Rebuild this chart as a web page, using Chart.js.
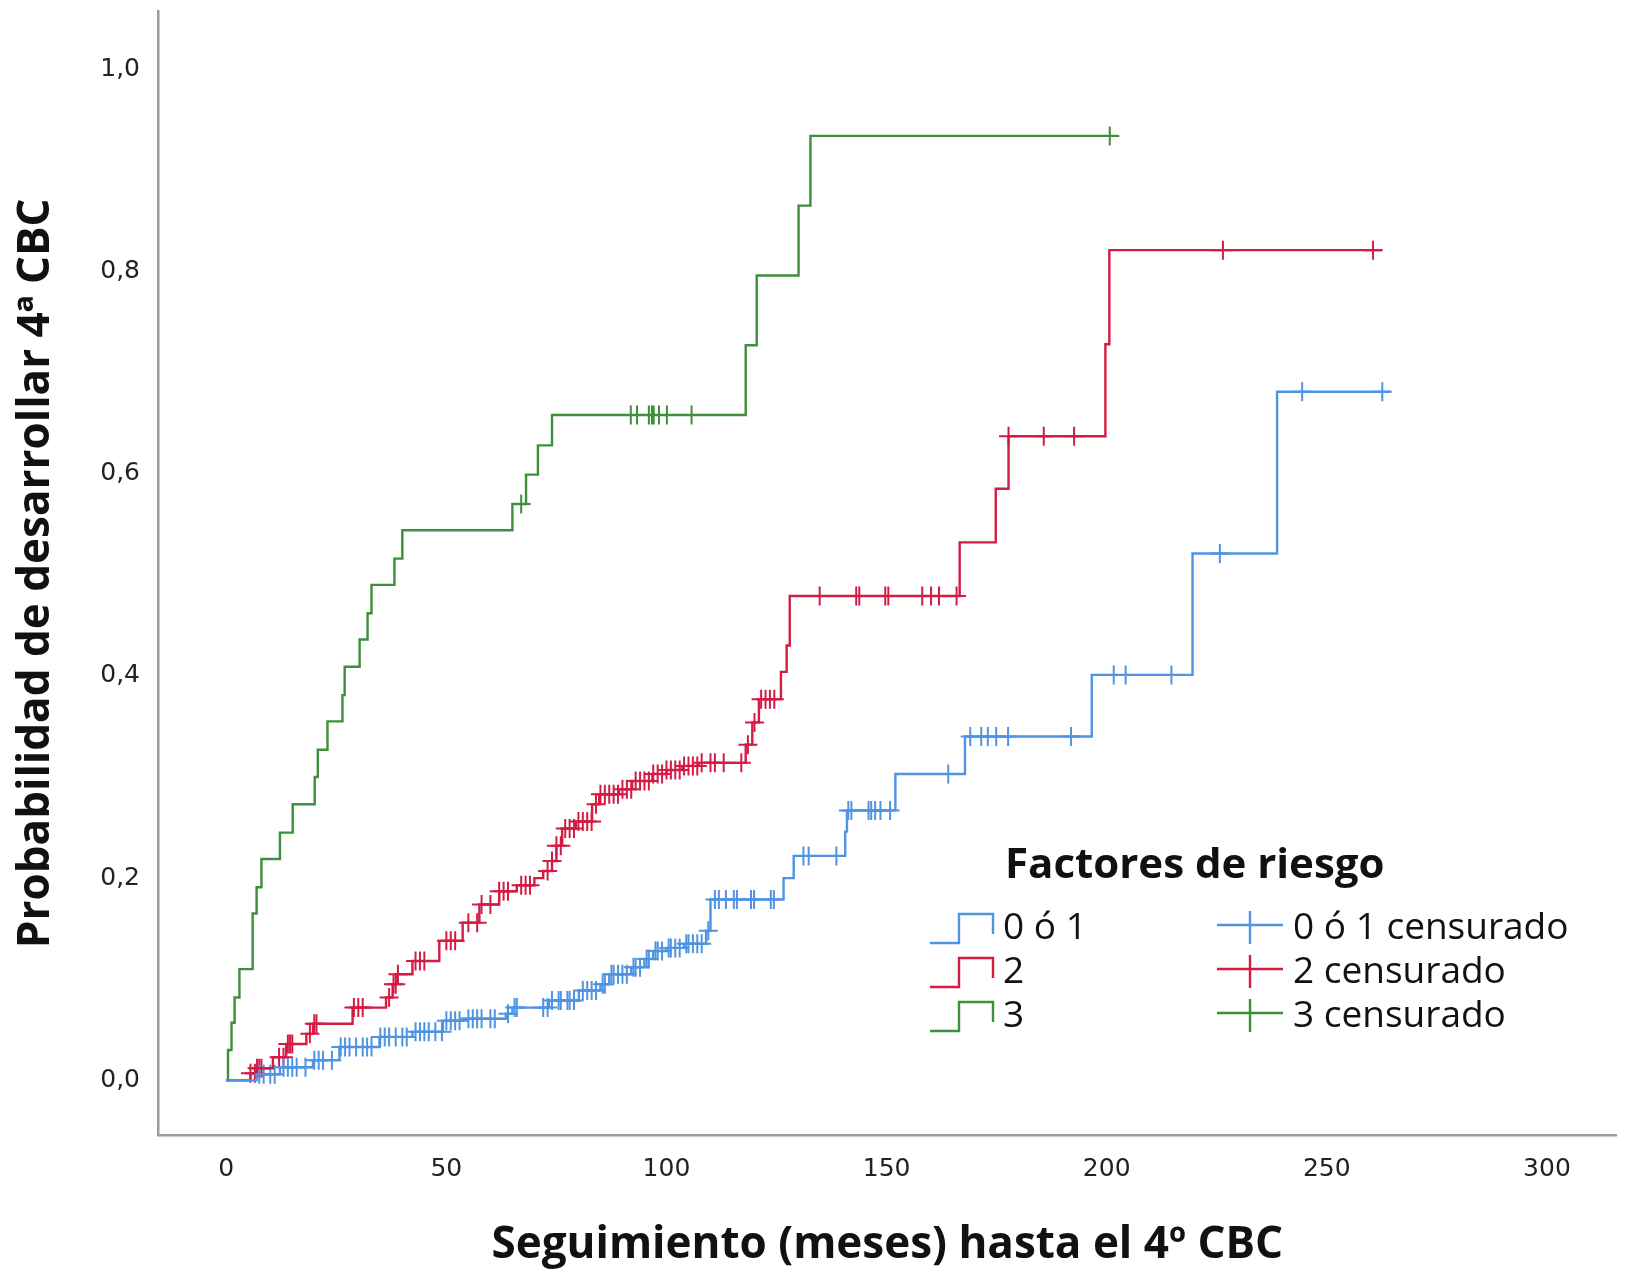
<!DOCTYPE html>
<html>
<head>
<meta charset="utf-8">
<script src="https://cdn.jsdelivr.net/npm/chart.js@4.4.1/dist/chart.umd.min.js"></script>
<style>
  html, body { margin: 0; padding: 0; background: #fff; }
  #wrap { width: 1628px; height: 1278px; }
</style>
</head>
<body>
<div id="wrap"><canvas id="km" width="1628" height="1278"></canvas></div>
<script>
// ------------------------
// Data
// ------------------------

// Group "0 ó 1" - event times (months) and cumulative probability
const time01 = [0, 6.9, 12.2, 19.7, 25.7, 34.8, 42.3, 49.2, 53.7, 63.5, 65, 73.3, 80.1, 85, 87, 92, 95, 97, 100, 104, 109, 110, 126.6, 128.9, 140.6, 141, 152, 167.8, 196.6, 219.5, 238.7, 264.4];
const prob01 = [0, 0.006, 0.013, 0.02, 0.033, 0.043, 0.048, 0.059, 0.061, 0.066, 0.072, 0.079, 0.089, 0.095, 0.105, 0.112, 0.12, 0.128, 0.131, 0.135, 0.148, 0.179, 0.2, 0.222, 0.246, 0.267, 0.303, 0.34, 0.401, 0.521, 0.681, 0.681];
const cens01 = [7.5, 8.5, 10, 11, 13, 14, 15, 16, 18, 20, 21, 22, 24, 26, 27, 28, 29.5, 31, 32, 33, 35, 36, 37, 38.5, 40, 41, 43, 44, 45, 46, 47.5, 49, 50, 51, 52, 53, 55, 56, 57, 58, 60, 61, 64, 65.5, 66, 72, 73, 74, 75.5, 76, 77.5, 78, 79, 81, 82, 83, 84, 85.5, 86, 87.5, 88, 89, 90, 91, 92.5, 93, 94, 95.5, 96, 97.5, 98, 99, 100.5, 101, 102, 103, 104.5, 105, 106, 107, 108, 109.5, 111, 111.9, 113.5, 115.3, 116, 119.2, 119.9, 123.7, 124.4, 131.1, 132.3, 138.6, 141.3, 142, 145.9, 146.5, 147.4, 148.6, 150.8, 164, 169, 171.5, 173, 174.9, 177.6, 191.9, 201.6, 204.3, 214.7, 225.7, 244.4, 262.6];

// Group "2"
const time2 = [0, 5.5, 6.9, 10.6, 13.6, 18.2, 19.7, 28.7, 36.3, 37.8, 38.6, 42.3, 48.4, 53.7, 57.5, 62, 66, 70, 72, 74, 75, 76.3, 79.4, 83.1, 84.7, 89.2, 92.2, 96.8, 100, 103.6, 107.3, 118, 119.5, 121, 126, 127.3, 128, 166.6, 174.8, 177.7, 199.7, 200.6, 262.6];
const prob2 = [0, 0.007, 0.012, 0.023, 0.036, 0.046, 0.056, 0.072, 0.082, 0.095, 0.105, 0.118, 0.138, 0.156, 0.174, 0.187, 0.193, 0.2, 0.207, 0.217, 0.232, 0.249, 0.256, 0.273, 0.283, 0.288, 0.296, 0.303, 0.307, 0.311, 0.314, 0.332, 0.354, 0.377, 0.404, 0.43, 0.479, 0.532, 0.585, 0.637, 0.728, 0.821, 0.821];
const cens2 = [5.5, 6.5, 7, 7.5, 8, 12, 13, 14, 14.5, 15, 19, 20, 20.5, 29, 30, 31, 37, 38, 38.5, 39, 43, 44, 45, 50, 51, 52, 55, 57, 58, 60, 62, 63, 64, 67, 68, 69, 73, 74, 75, 76, 77, 78, 79, 80, 81, 82, 83, 84, 85, 86, 87, 88, 89, 90, 91, 92, 93, 94, 95, 96, 97, 98, 99, 100, 101, 102, 103, 104, 105, 106, 107, 108, 110, 111, 113, 117, 118.5, 120, 121.5, 122.5, 123.5, 124.5, 134.8, 143.1, 143.8, 149.7, 150.4, 158.1, 160.1, 161.9, 165.9, 177.7, 185.7, 192.6, 226.4, 260.5];

// Group "3"
const time3 = [0, 0.4, 1.2, 1.9, 3.0, 6.0, 6.9, 8.0, 12.2, 15.1, 20.1, 20.8, 23.0, 26.4, 26.9, 30.3, 32.1, 33.0, 38.2, 40.0, 65.0, 68.1, 70.8, 74.0, 118.0, 120.5, 130.0, 132.7, 202.5];
const prob3 = [0, 0.03, 0.057, 0.082, 0.11, 0.165, 0.191, 0.219, 0.245, 0.273, 0.30, 0.327, 0.355, 0.381, 0.409, 0.436, 0.462, 0.49, 0.516, 0.544, 0.57, 0.599, 0.628, 0.658, 0.727, 0.796, 0.865, 0.934, 0.934];
const cens3 = [67, 91.9, 93.3, 96.0, 96.7, 97.1, 98.3, 100.1, 105.7, 200.7];

const groupLabels = ['0 ó 1', '2', '3'];
const xTicks = [0, 50, 100, 150, 200, 250, 300];
const yTicks = [0, 0.2, 0.4, 0.6, 0.8, 1.0];

const colors = ['#4F93E3', '#D31B44', '#3E8E3A'];

// ------------------------
// Helpers
// ------------------------

const toPoints = (xs, ys) => xs.map((x, i) => ({ x, y: ys[i] }));

// value of the step curve at time t (for placing censor marks on the curve)
const stepAt = (xs, ys, t) => {
    let v = ys[0];
    xs.forEach((x, i) => { if (x <= t) v = ys[i]; });
    return v;
};

const censPoints = (cens, xs, ys) => cens.map(t => ({ x: t, y: stepAt(xs, ys, t) }));

const curve = (label, xs, ys, color) => ({
    label,
    data: toPoints(xs, ys),
    showLine: true,
    stepped: 'before',
    borderColor: color,
    borderWidth: 2.4,
    pointRadius: 0,
    fill: false
});

const censor = (label, cens, xs, ys, color) => ({
    label,
    data: censPoints(cens, xs, ys),
    showLine: false,
    pointStyle: 'cross',
    pointRadius: 9.5,
    pointBorderWidth: 2,
    borderColor: color,
    backgroundColor: color
});

// ------------------------
// Legend drawn in SPSS style
// ------------------------

const riskLegend = {
    id: 'riskLegend',
    afterDraw(chart) {
        const ctx = chart.ctx;
        ctx.save();
        ctx.fillStyle = '#111';
        ctx.textBaseline = 'middle';
        ctx.textAlign = 'left';
        ctx.font = 'bold 42px "Open Sans"';
        ctx.fillText('Factores de riesgo', 1005, 866);

        ctx.font = '37px "Open Sans"';
        const rows = [928, 972, 1016];
        groupLabels.forEach((lab, i) => {
            const cy = rows[i];
            ctx.strokeStyle = colors[i];
            ctx.lineWidth = 2.4;
            // step glyph
            ctx.beginPath();
            ctx.moveTo(930, cy + 15);
            ctx.lineTo(959, cy + 15);
            ctx.lineTo(959, cy - 14);
            ctx.lineTo(993, cy - 14);
            ctx.lineTo(993, cy + 6);
            ctx.stroke();
            ctx.fillText(lab, 1003, cy);

            // censor glyph
            ctx.beginPath();
            ctx.moveTo(1217, cy - 3);
            ctx.lineTo(1283, cy - 3);
            ctx.moveTo(1250, cy - 17);
            ctx.lineTo(1250, cy + 16);
            ctx.stroke();
            ctx.fillText(lab + ' censurado', 1293, cy);
        });
        ctx.restore();
    }
};

// ------------------------
// Chart
// ------------------------

const ctx = document.getElementById('km').getContext('2d');

new Chart(ctx, {
    type: 'scatter',
    data: {
        datasets: [
            curve(groupLabels[0], time01, prob01, colors[0]),
            curve(groupLabels[1], time2, prob2, colors[1]),
            curve(groupLabels[2], time3, prob3, colors[2]),
            censor(groupLabels[0] + ' censurado', cens01, time01, prob01, colors[0]),
            censor(groupLabels[1] + ' censurado', cens2, time2, prob2, colors[1]),
            censor(groupLabels[2] + ' censurado', cens3, time3, prob3, colors[2])
        ]
    },
    options: {
        responsive: false,
        animation: false,
        devicePixelRatio: 1,
        layout: { padding: { left: 0, right: 8, top: 8, bottom: 0 } },
        plugins: {
            legend: { display: false },
            tooltip: { enabled: false }
        },
        scales: {
            x: {
                type: 'linear',
                min: -15.5,
                max: 315.8,
                afterBuildTicks: s => { s.ticks = xTicks.map(v => ({ value: v })); },
                afterFit: s => { s.height = 143; s.paddingLeft = 0; s.paddingRight = 0; },
                grid: { display: false, drawTicks: false },
                border: { display: true, color: '#9a9a9a', width: 2.5 },
                ticks: {
                    padding: 19,
                    color: '#222',
                    font: { family: '"DejaVu Sans"', size: 25 },
                    callback: v => String(v)
                },
                title: {
                    display: true,
                    text: 'Seguimiento (meses) hasta el 4º CBC',
                    color: '#111',
                    font: { family: '"Open Sans"', weight: 'bold', size: 44 },
                    padding: { top: 0, bottom: 6 }
                }
            },
            y: {
                type: 'linear',
                min: -0.054,
                max: 1.057,
                afterBuildTicks: s => { s.ticks = yTicks.map(v => ({ value: v })); },
                afterFit: s => { s.width = 158; s.paddingTop = 0; s.paddingBottom = 0; },
                grid: { display: false, drawTicks: false },
                border: { display: true, color: '#9a9a9a', width: 2.5 },
                ticks: {
                    padding: 18,
                    color: '#222',
                    font: { family: '"DejaVu Sans"', size: 25 },
                    callback: v => v.toFixed(1).replace('.', ',')
                },
                title: {
                    display: true,
                    text: 'Probabilidad de desarrollar 4ª CBC',
                    color: '#111',
                    font: { family: '"Open Sans"', weight: 'bold', size: 44 },
                    padding: { top: 10, bottom: 0 }
                }
            }
        }
    },
    plugins: [riskLegend]
});
</script>
</body>
</html>
